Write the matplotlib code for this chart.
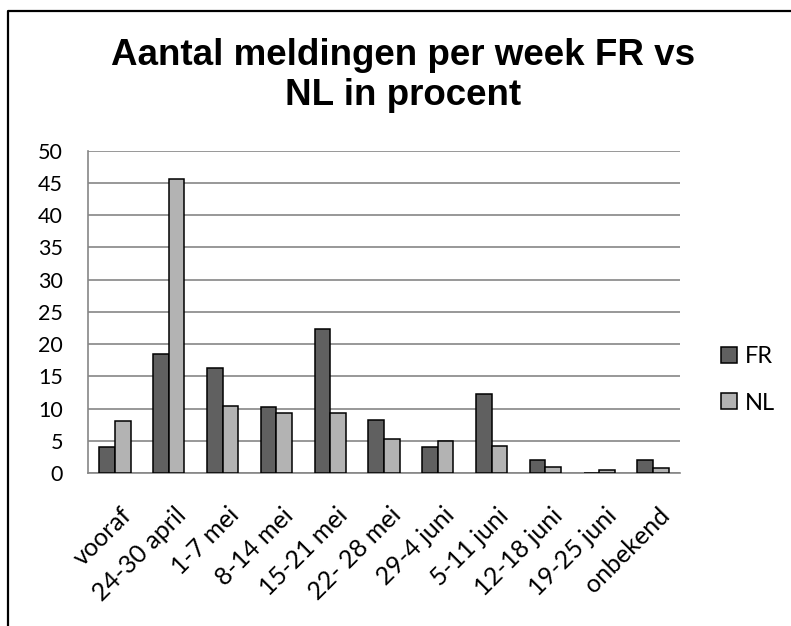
import matplotlib
matplotlib.use("Agg")
import matplotlib.pyplot as plt
import matplotlib.transforms as mtransforms
from matplotlib.lines import Line2D
import numpy as np

weeks = ["vooraf", "24-30 april", "1-7 mei", "8-14 mei", "15-21 mei", "22- 28 mei",
         "29-4 juni", "5-11 juni", "12-18 juni", "19-25 juni", "onbekend"]
fr = [4.1, 18.4, 16.3, 10.2, 22.4, 8.2, 4.1, 12.2, 2.0, 0.0, 2.0]
nl = [8.1, 45.6, 10.4, 9.3, 9.3, 5.3, 4.9, 4.2, 1.0, 0.4, 0.8]
y_ticks = list(range(0, 55, 5))

W, H = 791, 626
fig = plt.figure(figsize=(W / 100, H / 100), dpi=100)
ax = fig.add_axes([88 / W, 1 - 473 / H, 592 / W, 322.3 / H])

x = np.arange(len(weeks))
w = 0.29
ax.bar(x - w / 2, fr, w, color="#606060", edgecolor="black", linewidth=1.1, label="FR", zorder=3)
ax.bar(x + w / 2, nl, w, color="#b3b3b3", edgecolor="black", linewidth=1.1, label="NL", zorder=3)

ax.set_xlim(-0.5, len(weeks) - 0.5)
ax.set_ylim(0, 50)
ax.set_yticks(y_ticks)
ax.yaxis.grid(True, color="#868686", linewidth=1.2, zorder=0)
ax.set_axisbelow(True)
for s in ["top", "right"]:
    ax.spines[s].set_visible(False)
for s in ["left", "bottom"]:
    ax.spines[s].set_color("#868686")
    ax.spines[s].set_linewidth(1.2)

ax.tick_params(axis="y", length=0, pad=18, labelsize=15.5)
ax.tick_params(axis="x", length=0, pad=22, labelsize=18)
for lab in ax.get_yticklabels():
    lab.set_family("Lato")

ax.set_xticks(x)
ax.set_xticklabels(weeks, rotation=45, ha="right", va="top",
                   rotation_mode="anchor", family="Lato")
shift = mtransforms.ScaledTranslation(5 / 100, 0, fig.dpi_scale_trans)
for lab in ax.get_xticklabels():
    lab.set_transform(lab.get_transform() + shift)

fig.legend(loc="center left", bbox_to_anchor=(721 / W, 1 - 380 / H),
           frameon=False, prop={"family": "Lato", "size": 17},
           handlelength=0.66, handleheight=0.66, handletextpad=0.34,
           labelspacing=1.07, borderaxespad=0, borderpad=0)

fig.text(403 / W, 1 - 38 / H, "Aantal meldingen per week FR vs\nNL in procent",
         ha="center", va="top", fontsize=26.5, fontweight="bold",
         family="Liberation Sans", linespacing=1.17)

# chart frame (left and top edges)
fig.add_artist(Line2D([8 / W, 8 / W, 1.0], [0.0, 1 - 11 / H, 1 - 11 / H],
                      color="black", linewidth=1.6, transform=fig.transFigure))

fig.savefig("out.png", dpi=100, facecolor="white")
